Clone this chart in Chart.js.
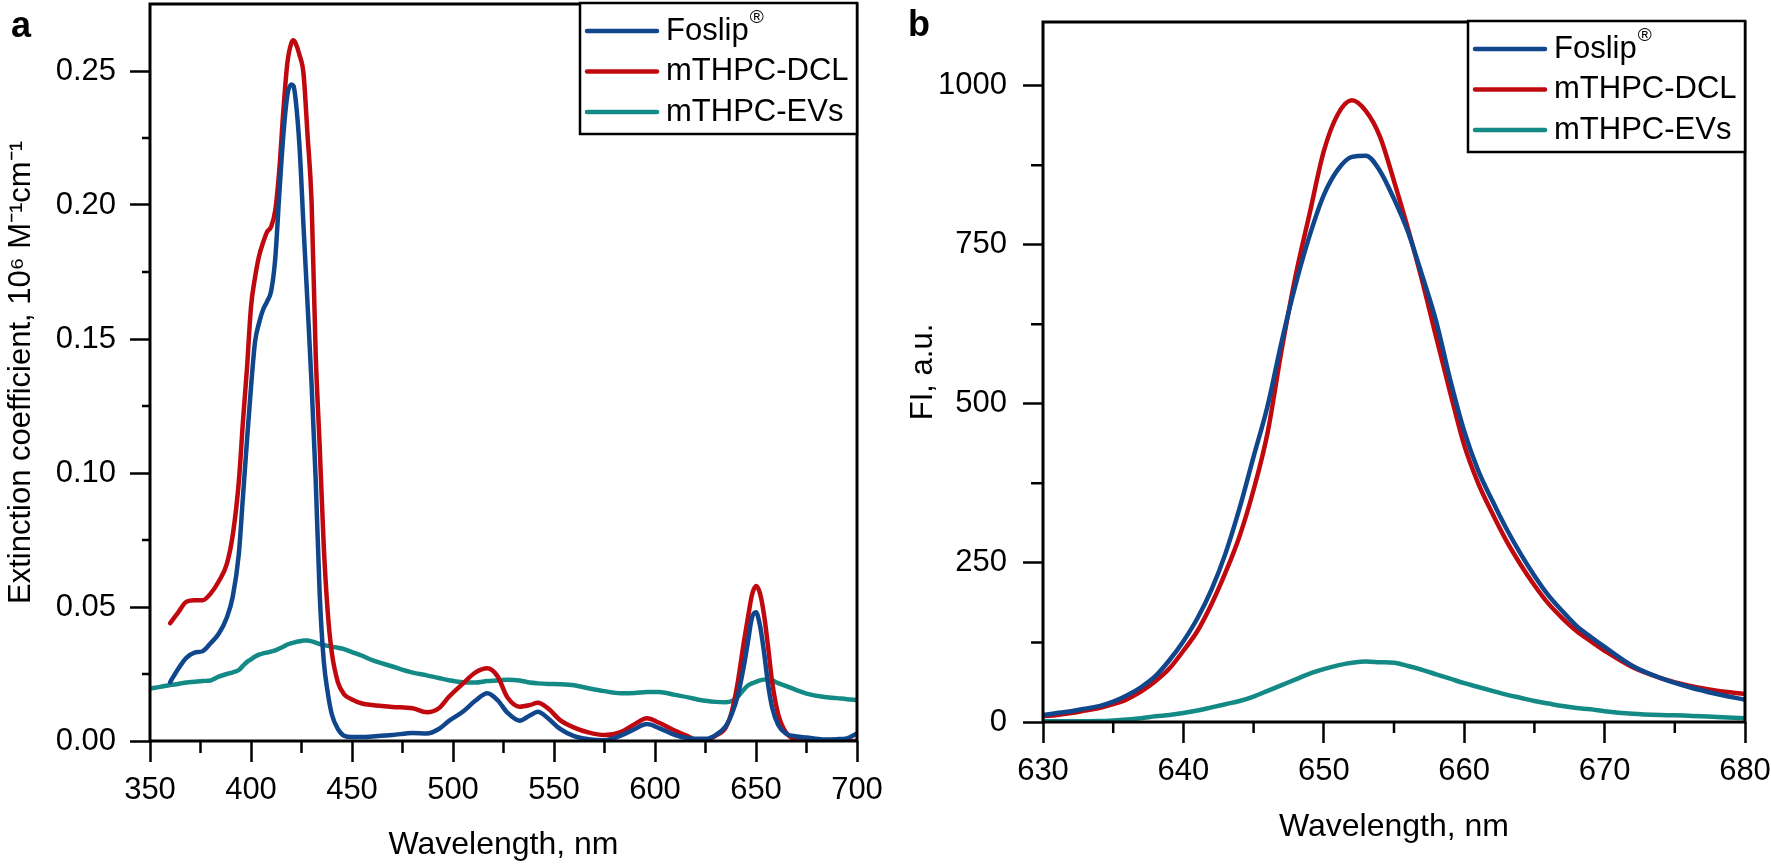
<!DOCTYPE html>
<html>
<head>
<meta charset="utf-8">
<title>mTHPC spectra</title>
<script src="https://cdn.jsdelivr.net/npm/chart.js@4.4.1/dist/chart.umd.min.js"></script>
<style>
  body { margin: 0; background: #fff; width: 1771px; height: 864px; position: relative; overflow: hidden;
         font-family: "Liberation Sans", Arial, sans-serif; }
  .panel { position: absolute; top: 0; height: 864px; }
  #wrapA { left: 0; width: 900px; }
  #wrapB { left: 880px; width: 891px; }
  .tag { position: absolute; font-weight: bold; font-size: 36px; line-height: 36px; }
</style>
</head>
<body>
<div class="panel" id="wrapA"><canvas id="chartA" width="900" height="864"></canvas></div>
<div class="panel" id="wrapB"><canvas id="chartB" width="891" height="864"></canvas></div>
<div class="tag" style="left:11px; top:7px;">a</div>
<div class="tag" style="left:908px; top:6px;">b</div>
<script>
// series names + colours (same order in both panels)
const seriesNames = ['Foslip®', 'mTHPC-DCL', 'mTHPC-EVs'];
const seriesColors = ['#10468c', '#c0090f', '#138a86'];

// panel a: absorption (extinction coefficient, 10^6 M-1 cm-1)
const absWavelength = [350, 355, 360, 364, 368, 372, 376, 380, 384, 388, 391, 394, 396, 398, 400, 402, 404, 406, 408, 410,
  412, 414, 416, 418, 420, 421, 422, 424, 426, 428, 430, 432, 434, 436, 438, 440, 443, 446, 450, 455,
  460, 470, 480, 487, 493, 498, 505, 511, 517, 522, 527, 533, 538, 542, 547, 553, 560, 567, 575, 583,
  590, 596, 602, 610, 617, 621, 625, 630, 635, 638, 641, 644, 646, 648, 650, 652, 654, 656, 658, 661,
  665, 670, 675, 683, 690, 695, 700];
const absFoslip = [null, null, 0.022, 0.027, 0.031, 0.033, 0.0335, 0.0365, 0.040, 0.046, 0.054, 0.070, 0.091, 0.112, 0.132, 0.149, 0.156, 0.161, 0.164, 0.168,
  0.180, 0.204, 0.226, 0.241, 0.245, 0.2445, 0.240, 0.222, 0.192, 0.163, 0.133, 0.098, 0.055, 0.030, 0.018, 0.010, 0.0045, 0.002, 0.0015, 0.0015,
  0.0017, 0.0022, 0.003, 0.0028, 0.0045, 0.0075, 0.011, 0.015, 0.0178, 0.0153, 0.0105, 0.0076, 0.0095, 0.0109, 0.0085, 0.0045, 0.0018, 0.0007, 0.0003, 0.002,
  0.0045, 0.0063, 0.0048, 0.0022, 0.001, 0.0008, 0.0008, 0.0022, 0.0055, 0.010, 0.017, 0.028, 0.037, 0.046, 0.048, 0.043, 0.033, 0.021, 0.0125, 0.006,
  0.0027, 0.0017, 0.0013, 0.0006, 0.0007, 0.001, 0.0028];
const absDcl = [null, null, 0.044, 0.048, 0.052, 0.0525, 0.0525, 0.055, 0.0595, 0.066, 0.077, 0.097, 0.119, 0.139, 0.162, 0.173, 0.181, 0.186, 0.190, 0.192,
  0.198, 0.213, 0.235, 0.253, 0.2605, 0.2615, 0.2605, 0.256, 0.249, 0.226, 0.201, 0.145, 0.110, 0.073, 0.048, 0.033, 0.022, 0.0175, 0.0155, 0.014,
  0.0134, 0.0127, 0.0122, 0.0107, 0.0122, 0.0165, 0.0215, 0.0255, 0.0271, 0.0242, 0.0162, 0.0128, 0.0134, 0.0143, 0.0122, 0.0078, 0.005, 0.0032, 0.0022, 0.0033,
  0.0063, 0.0085, 0.0068, 0.0038, 0.0015, 0.0002, 0.0003, 0.002, 0.005, 0.011, 0.022, 0.037, 0.046, 0.0545, 0.0578, 0.055, 0.047, 0.035, 0.022, 0.010,
  0.003, 0.0005, 0, 0, 0, 0, 0];
const absEvs = [0.0196, 0.0202, 0.0209, 0.0213, 0.0218, 0.0221, 0.0224, 0.0226, 0.024, 0.025, 0.0256, 0.0265, 0.028, 0.0295, 0.0305, 0.0315, 0.0322, 0.0327, 0.033, 0.0334,
  0.0338, 0.0345, 0.0352, 0.036, 0.0365, 0.0367, 0.0369, 0.0372, 0.0375, 0.0375, 0.0372, 0.0367, 0.0362, 0.0358, 0.0355, 0.0352, 0.0348, 0.0343, 0.0332, 0.0318,
  0.0302, 0.0278, 0.0255, 0.0245, 0.0235, 0.0227, 0.0219, 0.0218, 0.0224, 0.0226, 0.0229, 0.0226, 0.0218, 0.0215, 0.0213, 0.0212, 0.0208, 0.0197, 0.0186, 0.0178,
  0.0179, 0.0183, 0.0183, 0.0172, 0.0162, 0.0155, 0.015, 0.0146, 0.0145, 0.0149, 0.0166, 0.0192, 0.0207, 0.0215, 0.0221, 0.0226, 0.0229, 0.023, 0.0226, 0.0216,
  0.0205, 0.019, 0.0177, 0.0165, 0.016, 0.0156, 0.0153];

// panel b: fluorescence intensity, a.u.
const flWavelength = [630, 631, 632, 633, 634, 635, 636, 637, 638, 639, 640, 641, 642, 643, 644, 645, 646, 647, 648, 649,
  650, 651, 652, 653, 654, 655, 656, 657, 658, 659, 660, 661, 662, 663, 664, 665, 666, 667, 668, 669,
  670, 672, 674, 676, 678, 680];
const flFoslip = [11, 14, 17, 21, 25, 32, 42, 55, 72, 97, 127, 163, 208, 265, 336, 417, 497, 598, 688, 765,
  828, 868, 888, 890, 866, 822, 770, 702, 630, 538, 457, 395, 348, 304, 265, 230, 199, 174, 151, 134,
  118, 88, 69, 55, 44, 35];
const flDcl = [9, 11, 14, 18, 22, 28, 36, 48, 64, 84, 112, 143, 185, 235, 292, 365, 455, 585, 702, 800,
  897, 955, 977, 960, 920, 850, 775, 694, 605, 518, 435, 375, 328, 285, 248, 215, 186, 163, 143, 127,
  112, 86, 69, 57, 49, 44];
const flEvs = [1, 1, 1, 1.2, 1.5, 2.5, 4, 6, 9, 11, 14, 18, 23, 28, 33, 40, 49, 58, 67, 76,
  83, 89, 93, 95, 94, 93, 88, 82, 75, 68, 61, 55, 49, 43, 38, 33, 29, 25, 22, 20,
  17, 13, 11, 10, 8, 6];

const FONT = '"Liberation Sans", Arial, sans-serif';

function toPoints(xs, ys) {
  return xs.map((x, i) => ({ x: x, y: ys[i] }));
}

function makeDatasets(xs, series) {
  return series.map((ys, i) => ({
    label: seriesNames[i],
    data: toPoints(xs, ys),
    borderColor: seriesColors[i],
    borderWidth: 4.5,
    pointRadius: 0,
    cubicInterpolationMode: 'monotone',
    borderJoinStyle: 'round',
    borderCapStyle: 'round',
    fill: false
  }));
}

// frame round the plot + short minor ticks
const framePlugin = {
  id: 'frame',
  afterDraw(chart, args, opts) {
    const ctx = chart.ctx;
    const a = chart.chartArea;
    const xs = chart.scales.x, ys = chart.scales.y;
    ctx.save();
    ctx.strokeStyle = '#000';
    ctx.lineWidth = 2.5;
    ctx.beginPath();
    opts.minorX.forEach(v => {
      const px = xs.getPixelForValue(v);
      ctx.moveTo(px, a.bottom);
      ctx.lineTo(px, a.bottom + opts.lenX);
    });
    opts.minorY.forEach(v => {
      const py = ys.getPixelForValue(v);
      ctx.moveTo(a.left, py);
      ctx.lineTo(a.left - opts.lenY, py);
    });
    ctx.stroke();
    ctx.lineWidth = 3;
    ctx.strokeRect(a.left, a.top, a.right - a.left, a.bottom - a.top);
    ctx.restore();
  }
};

// boxed legend in the top right corner of the plot
const boxLegend = {
  id: 'boxLegend',
  afterDraw(chart) {
    const ctx = chart.ctx;
    const a = chart.chartArea;
    const w = 277, h = 131;
    const x0 = a.right - w, y0 = a.top - 1;
    ctx.save();
    ctx.fillStyle = '#fff';
    ctx.fillRect(x0, y0, w, h);
    ctx.strokeStyle = '#000';
    ctx.lineWidth = 2.5;
    ctx.strokeRect(x0, y0, w, h);
    chart.data.datasets.forEach((ds, i) => {
      const y = y0 + 28 + i * 40.5;
      ctx.strokeStyle = ds.borderColor;
      ctx.lineWidth = 4.5;
      ctx.lineCap = 'round';
      ctx.beginPath();
      ctx.moveTo(x0 + 7, y);
      ctx.lineTo(x0 + 77, y);
      ctx.stroke();
      let label = ds.label, sup = '';
      if (label.endsWith('®')) { sup = '®'; label = label.slice(0, -1); }
      ctx.fillStyle = '#000';
      ctx.textBaseline = 'middle';
      ctx.textAlign = 'left';
      ctx.font = '31px ' + FONT;
      ctx.fillText(label, x0 + 86, y);
      if (sup) {
        const tw = ctx.measureText(label).width;
        ctx.font = '19px ' + FONT;
        ctx.fillText(sup, x0 + 87 + tw, y - 13);
      }
    });
    ctx.restore();
  }
};

function makeChart(id, cfg) {
  return new Chart(document.getElementById(id), {
    type: 'line',
    data: { datasets: makeDatasets(cfg.xs, cfg.series) },
    plugins: [framePlugin, boxLegend],
    options: {
      responsive: false,
      animation: false,
      devicePixelRatio: 1,
      layout: { autoPadding: false, padding: cfg.padding },
      plugins: {
        legend: { display: false },
        tooltip: { enabled: false },
        frame: { minorX: cfg.minorX, minorY: cfg.minorY, lenX: cfg.minorLenX, lenY: cfg.minorLenY }
      },
      scales: {
        x: {
          type: 'linear',
          min: cfg.xMin, max: cfg.xMax,
          border: { display: false },
          grid: { drawOnChartArea: false, drawTicks: true, tickLength: 21, tickWidth: 2.5, tickColor: '#000' },
          ticks: { stepSize: cfg.xStep, autoSkip: false, maxRotation: 0, includeBounds: false,
                   padding: 10, color: '#000', font: { family: FONT, size: 31 } },
          title: { display: true, text: 'Wavelength, nm', color: '#000',
                   font: { family: FONT, size: 32, lineHeight: 1.2 }, padding: { top: 0, bottom: cfg.xTitlePad } },
          afterFit(scale) {
            scale.height = cfg.xAxisHeight;
            scale.paddingLeft = scale.paddingRight = 0;
          }
        },
        y: {
          min: cfg.yMin, max: cfg.yMax,
          border: { display: false },
          grid: { drawOnChartArea: false, drawTicks: true, tickLength: 20, tickWidth: 2.5, tickColor: '#000' },
          ticks: { stepSize: cfg.yStep, includeBounds: false, padding: cfg.yTickPad, color: '#000',
                   font: { family: FONT, size: 31 }, callback: cfg.yFormat },
          title: { display: true, text: cfg.yTitle, color: '#000',
                   font: { family: FONT, size: 31, lineHeight: 1.2 }, padding: { top: cfg.yTitlePad, bottom: 0 } },
          afterFit(scale) {
            scale.width = cfg.yAxisWidth;
            scale.paddingTop = scale.paddingBottom = 0;
          }
        }
      }
    }
  });
}

makeChart('chartA', {
  xs: absWavelength,
  series: [absFoslip, absDcl, absEvs],
  padding: { left: 0, right: 43, top: 4, bottom: 0 },
  xMin: 350, xMax: 700, xStep: 50,
  yMin: 0, yMax: 0.275, yStep: 0.05,
  yFormat: v => v.toFixed(2),
  yTitle: 'Extinction coefficient, 10⁶ M⁻¹cm⁻¹',
  minorX: [375, 425, 475, 525, 575, 625, 675],
  minorY: [0.025, 0.075, 0.125, 0.175, 0.225],
  minorLenX: 12, minorLenY: 8,
  xAxisHeight: 123, yAxisWidth: 150,
  xTitlePad: 0, yTitlePad: 3, yTickPad: 14
});

makeChart('chartB', {
  xs: flWavelength,
  series: [flFoslip, flDcl, flEvs],
  padding: { left: 0, right: 26, top: 22, bottom: 0 },
  xMin: 630, xMax: 680, xStep: 10,
  yMin: 0, yMax: 1100, yStep: 250,
  yFormat: v => String(v),
  yTitle: 'FI, a.u.',
  minorX: [635, 645, 655, 665, 675],
  minorY: [125, 375, 625, 875],
  minorLenX: 11, minorLenY: 12,
  xAxisHeight: 142, yAxisWidth: 163,
  xTitlePad: 18, yTitlePad: 25, yTickPad: 16
});
</script>
</body>
</html>
